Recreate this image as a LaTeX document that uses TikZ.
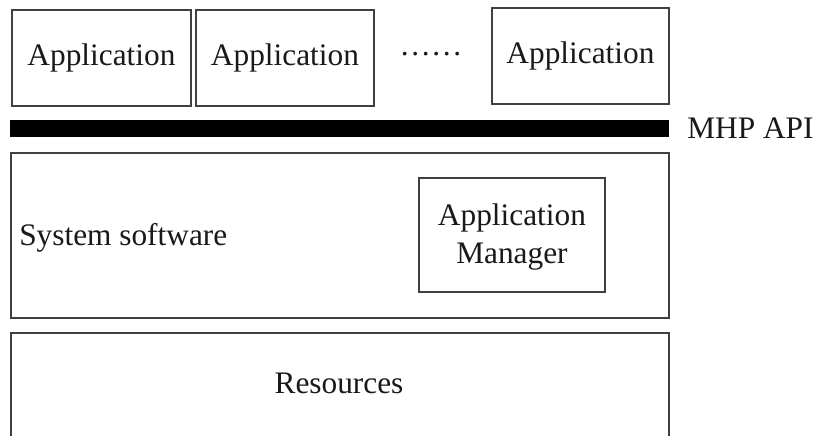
\documentclass[tikz,border=0pt]{standalone}
\usepackage{fontspec}
\setmainfont{Liberation Serif}
\begin{document}
\begin{tikzpicture}[x=0.75pt,y=-0.75pt,
  box/.style={draw=black!75,line width=1.4pt,fill=white,inner sep=0pt,anchor=north west},
  lbl/.style={font=\fontsize{23.5pt}{28.5pt}\selectfont,text=black!90,inner sep=0pt}]
  \clip (0,0) rectangle (816,435);
  \fill[white] (0,0) rectangle (816,435);

  % application row
  \node[box,minimum width=179*0.75pt,minimum height=96*0.75pt] (app1) at (11,9) {};
  \node[box,minimum width=178*0.75pt,minimum height=96*0.75pt] (app2) at (195,9) {};
  \node[box,minimum width=177*0.75pt,minimum height=96*0.75pt] (app3) at (491,7) {};
  \node[lbl] (t1) at (app1.center) {Application};
  \node[lbl] (t2) at (app2.center) {Application};
  \node[lbl] (t3) at (app3.center) {Application};
  \node[lbl] (dots) at (431,57) {\raisebox{0.2em}{……}};

  % API bar
  \node[fill=black,inner sep=0pt,anchor=north west,minimum width=659*0.75pt,minimum height=17*0.75pt] (bar) at (10,120) {};
  \node[lbl,anchor=west] (api) at (687,128) {MHP API};

  % system software layer
  \node[box,minimum width=658*0.75pt,minimum height=165*0.75pt] (sys) at (10,152) {};
  \node[lbl,anchor=west] (syst) at (19,238) {System software};
  \node[box,minimum width=186*0.75pt,minimum height=114*0.75pt] (am) at (418,177) {};
  \node[lbl,align=center] (amt) at ([yshift=-1.5pt]am.center) {Application\\Manager};

  % resources layer (open at the bottom)
  \node[box,minimum width=658*0.75pt,minimum height=130*0.75pt] (res) at (10,332) {};
  \node[lbl] (rest) at (339,383) {Resources};
\end{tikzpicture}
\end{document}
